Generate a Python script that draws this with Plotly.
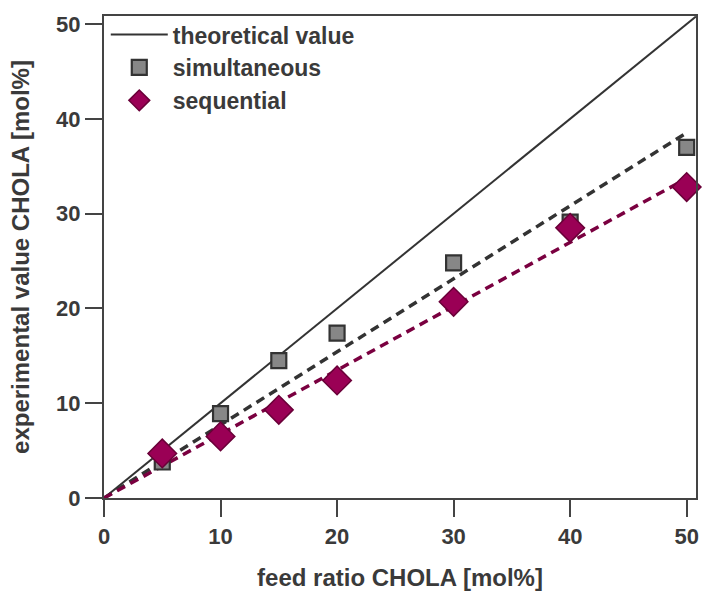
import numpy as np
import plotly.graph_objects as go

# Feed ratio of CHOLA (mol%) and measured incorporation (mol%)
feed = [5, 10, 15, 20, 30, 40, 50]
simultaneous = [3.8, 8.9, 14.5, 17.4, 24.8, 29.1, 37.0]
sequential = [4.7, 6.5, 9.3, 12.4, 20.7, 28.5, 32.8]
tick_vals = [0, 10, 20, 30, 40, 50]

x_max = 50.8
y_max = 50.85

# Linear fits through the origin
feed_arr = np.array(feed, dtype=float)
slope_sim = float(np.dot(feed_arr, simultaneous) / np.dot(feed_arr, feed_arr))
slope_seq = float(np.dot(feed_arr, sequential) / np.dot(feed_arr, feed_arr))
fit_x = [0, 50]

TEXT = "#3a3a3a"
AXIS = "#444444"
FONT = "Liberation Sans"

fig = go.Figure()

fig.add_trace(go.Scatter(
    x=[0, x_max], y=[0, x_max], mode="lines", name="theoretical value",
    line=dict(color="#333333", width=2),
))
fig.add_trace(go.Scatter(
    x=fit_x, y=[slope_sim * v for v in fit_x], mode="lines", showlegend=False,
    line=dict(color="#333333", width=3.5, dash="9px,6px"),
))
fig.add_trace(go.Scatter(
    x=fit_x, y=[slope_seq * v for v in fit_x], mode="lines", showlegend=False,
    line=dict(color="#7a0040", width=3.5, dash="9px,6px"),
))
fig.add_trace(go.Scatter(
    x=feed, y=simultaneous, mode="markers", name="simultaneous",
    marker=dict(symbol="square", size=15, color="#878787",
                line=dict(color="#333333", width=2.2)),
    cliponaxis=False,
))
fig.add_trace(go.Scatter(
    x=feed, y=sequential, mode="markers", name="sequential",
    marker=dict(symbol="diamond", size=22, color="#9a0055",
                line=dict(color="#6a0038", width=1.5)),
    cliponaxis=False,
))

axis_common = dict(
    showgrid=False, zeroline=False, showline=True, linecolor=AXIS, linewidth=2.2,
    mirror=True, ticks="outside", ticklen=17, tickwidth=2.2, tickcolor=AXIS,
    tickvals=tick_vals,
    tickfont=dict(family=FONT, size=22, color=TEXT, weight="bold"),
)

fig.update_layout(
    width=705, height=594,
    margin=dict(l=104, r=6, t=16, b=96),
    paper_bgcolor="white", plot_bgcolor="white",
    font=dict(family=FONT, color=TEXT),
    xaxis=dict(range=[0, x_max],
               title=dict(text="feed ratio CHOLA [mol%]",
                          font=dict(family=FONT, size=24, color=TEXT, weight="bold"),
                          standoff=22),
               **axis_common),
    yaxis=dict(range=[0, y_max],
               title=dict(text="experimental value CHOLA [mol%]",
                          font=dict(family=FONT, size=24, color=TEXT, weight="bold"),
                          standoff=20),
               **axis_common),
    legend=dict(x=0.003, y=1.006, xanchor="left", yanchor="top",
                bgcolor="rgba(255,255,255,0)", borderwidth=0,
                font=dict(family=FONT, size=23, color=TEXT, weight="bold"),
                itemwidth=57, tracegroupgap=0),
)

fig.write_html("out.html")
